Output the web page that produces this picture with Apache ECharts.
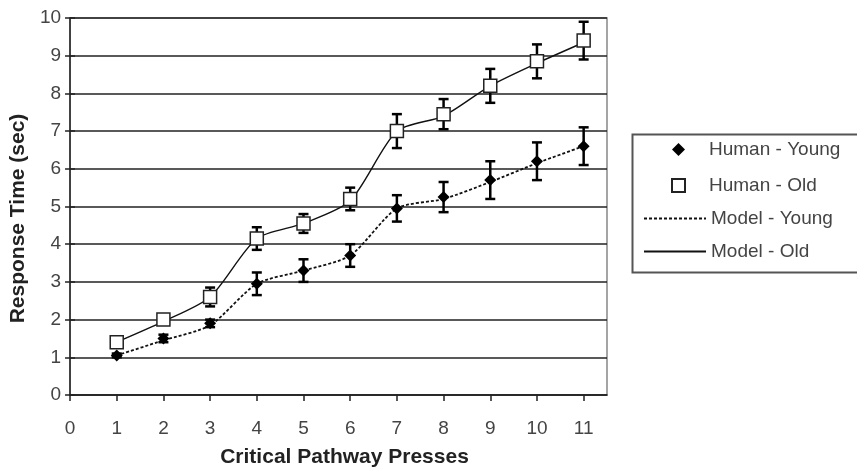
<!DOCTYPE html>
<html>
<head>
<meta charset="utf-8">
<script src="https://cdn.jsdelivr.net/npm/echarts@6/dist/echarts.min.js"></script>
<style>html,body{margin:0;padding:0;background:#fff;}#c{width:857px;height:473px;}</style>
</head>
<body>
<div id="c"></div>
<script>
var presses = [1, 2, 3, 4, 5, 6, 7, 8, 9, 10, 11];
var humanYoung = [1.05, 1.5, 1.9, 2.95, 3.3, 3.7, 4.95, 5.25, 5.7, 6.2, 6.6];
var humanYoungErr = [0.05, 0.1, 0.1, 0.3, 0.3, 0.3, 0.35, 0.4, 0.5, 0.5, 0.5];
var humanOld = [1.4, 2.0, 2.6, 4.15, 4.55, 5.2, 7.0, 7.45, 8.2, 8.85, 9.4];
var humanOldErr = [0.05, 0.1, 0.25, 0.3, 0.25, 0.3, 0.45, 0.4, 0.45, 0.45, 0.5];
var modelYoung = [1.05, 1.45, 1.85, 2.95, 3.3, 3.7, 4.95, 5.2, 5.65, 6.15, 6.6];
var modelOld = [1.4, 1.95, 2.6, 4.15, 4.55, 5.15, 7.0, 7.4, 8.2, 8.8, 9.35];
var legendHuman = ['Human - Young', 'Human - Old'];
var legendModel = ['Model - Young', 'Model - Old'];

var font = 'Liberation Sans, Arial, sans-serif';
function pairs(xs, ys) { return xs.map(function (x, i) { return [x, ys[i]]; }); }
function errData(xs, ys, es) { return xs.map(function (x, i) { return [x, ys[i] - es[i], ys[i] + es[i]]; }); }
function errRender(params, api) {
  var lo = api.coord([api.value(0), api.value(1)]);
  var hi = api.coord([api.value(0), api.value(2)]);
  var w = 5;
  var st = { stroke: '#000', lineWidth: 2.5 };
  return { type: 'group', children: [
    { type: 'line', shape: { x1: lo[0], y1: lo[1], x2: hi[0], y2: hi[1] }, style: st },
    { type: 'line', shape: { x1: lo[0] - w, y1: lo[1], x2: lo[0] + w, y2: lo[1] }, style: st },
    { type: 'line', shape: { x1: hi[0] - w, y1: hi[1], x2: hi[0] + w, y2: hi[1] }, style: st }
  ]};
}
var legendText = { fontFamily: font, fontSize: 19, color: '#444' };

var chart = echarts.init(document.getElementById('c'), null, { renderer: 'canvas' });
chart.setOption({
  animation: false,
  backgroundColor: '#fff',
  grid: { left: 70, top: 18, right: 250, bottom: 76, show: true, borderColor: '#888', borderWidth: 1.5, backgroundColor: 'transparent' },
  graphic: [{ type: 'rect', left: 630, top: 132, shape: { width: 240, height: 138 },
    style: { fill: 'none', stroke: '#555', lineWidth: 2 }, silent: true, z: -1 }],
  legend: [{
    orient: 'vertical', left: 671, top: 140, padding: 0,
    itemWidth: 13, itemHeight: 13, itemGap: 17,
    textStyle: Object.assign({ padding: [0, 0, 0, 19] }, legendText),
    data: legendHuman
  }, {
    orient: 'vertical', left: 643, top: 209, padding: 0,
    itemWidth: 62, itemHeight: 12, itemGap: 14,
    textStyle: legendText,
    data: legendModel
  }],
  xAxis: [{
    type: 'value', min: 0, max: 11.5, interval: 1,
    name: 'Critical Pathway Presses', nameLocation: 'middle', nameGap: 52,
    nameTextStyle: { fontFamily: font, fontSize: 21, fontWeight: 'bold', color: '#222', padding: [0, 0, 0, 12] },
    axisLine: { onZero: false, lineStyle: { color: '#222', width: 1.5 } },
    axisTick: { length: 6, lineStyle: { color: '#222', width: 1.5 } },
    axisLabel: { showMaxLabel: false, margin: 24, fontFamily: font, fontSize: 19, color: '#444' },
    splitLine: { show: false }
  }],
  yAxis: [{
    type: 'value', min: 0, max: 10, interval: 1,
    name: 'Response Time (sec)', nameLocation: 'middle', nameGap: 39, nameRotate: 90,
    nameTextStyle: { fontFamily: font, fontSize: 21, fontWeight: 'bold', color: '#222', padding: [0, 24, 0, 0] },
    axisLine: { show: true, lineStyle: { color: '#222', width: 1.5 } },
    axisTick: { show: true, length: 5, lineStyle: { color: '#222', width: 1.5 } },
    axisLabel: { margin: 9, fontFamily: font, fontSize: 19, color: '#444' },
    splitLine: { show: true, lineStyle: { color: '#222', width: 1.5 } }
  }, {
    type: 'value', min: 0, max: 10, interval: 1, position: 'left',
    axisLine: { show: false },
    axisTick: { show: true, inside: true, length: 5, lineStyle: { color: '#222', width: 1.5 } },
    axisLabel: { show: false }, splitLine: { show: false }
  }],
  series: [
    { name: 'Model - Young', type: 'line', smooth: 0.25, symbol: 'none', data: pairs(presses, modelYoung),
      lineStyle: { color: '#111', width: 1.8, type: [3, 2] },
      itemStyle: { color: 'rgba(0,0,0,0)', borderColor: 'rgba(0,0,0,0)', borderWidth: 0 }, z: 2 },
    { name: 'Model - Old', type: 'line', smooth: 0.25, symbol: 'none', data: pairs(presses, modelOld),
      lineStyle: { color: '#111', width: 1.4, type: 'solid' },
      itemStyle: { color: 'rgba(0,0,0,0)', borderColor: 'rgba(0,0,0,0)', borderWidth: 0 }, z: 2 },
    { type: 'custom', renderItem: errRender, data: errData(presses, humanYoung, humanYoungErr), z: 3, silent: true },
    { type: 'custom', renderItem: errRender, data: errData(presses, humanOld, humanOldErr), z: 3, silent: true },
    { name: 'Human - Young', type: 'scatter', symbol: 'diamond', symbolSize: 12, symbolKeepAspect: true,
      data: pairs(presses, humanYoung), itemStyle: { color: '#000', opacity: 1 }, z: 4 },
    { name: 'Human - Old', type: 'scatter', symbol: 'rect', symbolSize: 13, symbolKeepAspect: true,
      data: pairs(presses, humanOld), itemStyle: { color: '#fff', borderColor: '#222', borderWidth: 1.5, opacity: 1 }, z: 4 }
  ]
});
</script>
</body>
</html>
